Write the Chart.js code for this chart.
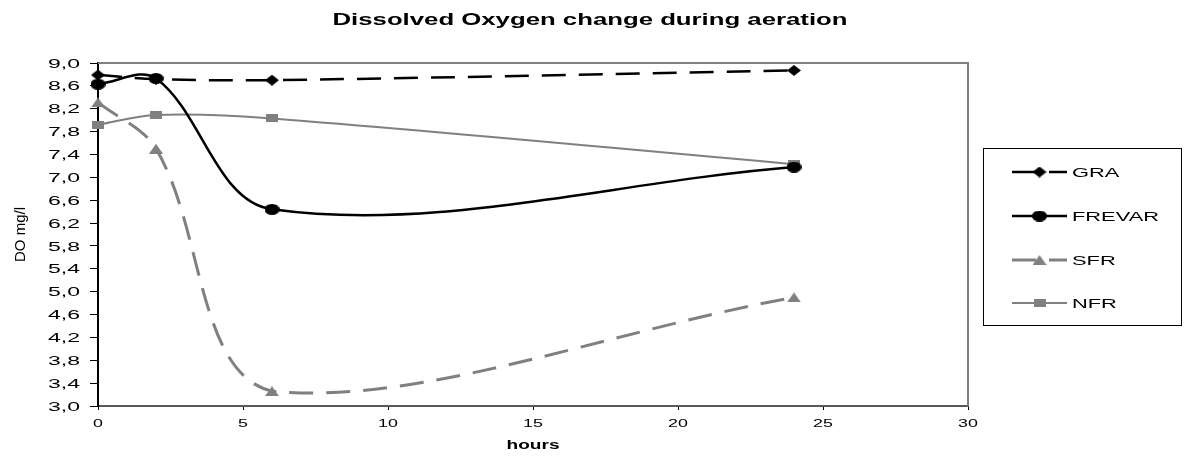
<!DOCTYPE html>
<html><head><meta charset="utf-8">
<script src="https://cdn.jsdelivr.net/npm/chart.js@4.4.1/dist/chart.umd.min.js"></script>
<style>html,body{margin:0;padding:0;background:#fff;}canvas{display:block;}</style>
</head><body>
<canvas id="c" width="1188" height="456"></canvas>
<script>
// ---- data ----
const hours = [0, 2, 6, 24];
const gra = [8.79, 8.72, 8.70, 8.87];
const frevar = [8.63, 8.73, 6.44, 7.18];
const sfr = [8.31, 7.50, 3.26, 4.90];
const nfr = [7.92, 8.09, 8.03, 7.23];
const seriesNames = ['GRA', 'FREVAR', 'SFR', 'NFR'];
const xTickValues = [0, 5, 10, 15, 20, 25, 30];
const yTickStep = 0.4;
const yRange = [3.0, 9.0];
const titleText = 'Dissolved Oxygen change during aeration';
const xTitle = 'hours';
const yTitle = 'DO mg/l';

const FONT = '"Liberation Sans", Arial, sans-serif';
const GRAY = '#808080';

function marker(kind, w, h, color) {
  const c = document.createElement('canvas'); c.width = w; c.height = h;
  const g = c.getContext('2d'); g.fillStyle = color; g.beginPath();
  if (kind === 'diamond') { g.moveTo(w/2, 0); g.lineTo(w, h/2); g.lineTo(w/2, h); g.lineTo(0, h/2); }
  else if (kind === 'ellipse') { g.ellipse(w/2, h/2, w/2, h/2, 0, 0, Math.PI*2); }
  else if (kind === 'triangle') { g.moveTo(w/2, 0); g.lineTo(w, h); g.lineTo(0, h); }
  else { g.rect(0, 0, w, h); }
  g.closePath(); g.fill(); return c;
}
const markers = [
  marker('diamond', 14, 11, '#000'),
  marker('ellipse', 15, 11, '#000'),
  marker('triangle', 14, 10, GRAY),
  marker('square', 12, 8, GRAY)
];
const toXY = arr => hours.map((h, i) => ({x: h, y: arr[i]}));

function stretchText(ctx, text, x, y, font, sx, align, baseline) {
  ctx.save(); ctx.font = font; ctx.fillStyle = '#000';
  ctx.textAlign = align; ctx.textBaseline = baseline || 'middle';
  ctx.translate(x, y); ctx.scale(sx, 1); ctx.fillText(text, 0, 0); ctx.restore();
}
function fitScale(ctx, font, text, target) {
  ctx.save(); ctx.font = font; const w = ctx.measureText(text).width; ctx.restore();
  return target / w;
}

const decor = {
  id: 'decor',
  beforeDraw(chart) {
    const ctx = chart.ctx;
    ctx.save(); ctx.fillStyle = '#fff'; ctx.fillRect(0, 0, chart.width, chart.height); ctx.restore();
  },
  beforeDatasetsDraw(chart) {
    const ctx = chart.ctx, a = chart.chartArea;
    ctx.save(); ctx.strokeStyle = GRAY; ctx.lineWidth = 2;
    ctx.beginPath(); ctx.moveTo(a.left, a.top); ctx.lineTo(a.right, a.top); ctx.lineTo(a.right, a.bottom); ctx.stroke();
    ctx.restore();
  },
  afterDraw(chart) {
    const ctx = chart.ctx, a = chart.chartArea;
    const xs = chart.scales.x, ys = chart.scales.y;
    // title
    const tf = 'bold 17px ' + FONT;
    stretchText(ctx, titleText, 590, 20, tf, fitScale(ctx, tf, titleText, 515), 'center');
    // y tick labels
    const yf = '13px ' + FONT;
    const ysx = fitScale(ctx, yf, '9,0', 32);
    ys.ticks.forEach(t => {
      const py = ys.getPixelForValue(t.value);
      stretchText(ctx, t.value.toFixed(1).replace('.', ','), 80, py + 1, yf, ysx, 'right');
    });
    // x tick labels
    const xf = '11px ' + FONT;
    xs.ticks.forEach(t => {
      const px = xs.getPixelForValue(t.value);
      stretchText(ctx, String(t.value), px, 424, xf, 1.62, 'center');
    });
    // axis titles
    const hf = 'bold 12px ' + FONT;
    stretchText(ctx, xTitle, (a.left + a.right) / 2, 446, hf, fitScale(ctx, hf, xTitle, 53), 'center');
    ctx.save(); ctx.font = '15px ' + FONT; ctx.fillStyle = '#000'; ctx.textAlign = 'center'; ctx.textBaseline = 'alphabetic';
    ctx.translate(25, (a.top + a.bottom) / 2); ctx.rotate(-Math.PI / 2); ctx.fillText(yTitle, 0, 0); ctx.restore();
    // legend
    ctx.save(); ctx.strokeStyle = '#000'; ctx.lineWidth = 1;
    ctx.strokeRect(983.5, 148.5, 198, 177); ctx.restore();
    const rows = [172, 216, 260, 303];
    const lf = '13px ' + FONT;
    chart.data.datasets.forEach((ds, i) => {
      const y = rows[i];
      ctx.save(); ctx.strokeStyle = ds.borderColor; ctx.lineWidth = ds.borderWidth;
      ctx.setLineDash(ds.borderDash || []);
      ctx.beginPath(); ctx.moveTo(1012, y); ctx.lineTo(1067, y); ctx.stroke(); ctx.restore();
      const m = ds.pointStyle;
      ctx.drawImage(m, 1039.5 - m.width / 2, y - m.height / 2);
      stretchText(ctx, ds.label, 1072, y + 1, lf, 1.68, 'left');
    });
  }
};

new Chart(document.getElementById('c'), {
  type: 'line',
  data: {
    datasets: [
      {label: seriesNames[0], data: toXY(gra), borderColor: '#000', borderWidth: 2.5, borderDash: [24, 13], pointStyle: markers[0]},
      {label: seriesNames[1], data: toXY(frevar), borderColor: '#000', borderWidth: 2.5, pointStyle: markers[1]},
      {label: seriesNames[2], data: toXY(sfr), borderColor: GRAY, borderWidth: 3, borderDash: [24, 13], pointStyle: markers[2]},
      {label: seriesNames[3], data: toXY(nfr), borderColor: GRAY, borderWidth: 2, pointStyle: markers[3]}
    ].map(d => Object.assign({fill: false, tension: 0.35, clip: false, pointRadius: 6, pointHoverRadius: 6}, d))
  },
  options: {
    responsive: false, animation: false, devicePixelRatio: 1,
    layout: {padding: {left: 0, right: 220, top: 63, bottom: 0}},
    plugins: {legend: {display: false}, title: {display: false}, tooltip: {enabled: false}},
    events: [],
    scales: {
      x: {
        type: 'linear', min: xTickValues[0], max: xTickValues[xTickValues.length - 1],
        afterBuildTicks(s) { s.ticks = xTickValues.map(v => ({value: v})); },
        ticks: {color: 'rgba(0,0,0,0)', font: {size: 11}},
        grid: {drawOnChartArea: false, drawTicks: true, tickLength: 4, color: '#000', lineWidth: 1},
        border: {color: '#595959', width: 2},
        afterFit(s) { s.height = 50; }
      },
      y: {
        type: 'linear', min: yRange[0], max: yRange[1],
        ticks: {stepSize: yTickStep, color: 'rgba(0,0,0,0)', font: {size: 11}, autoSkip: false},
        grid: {drawOnChartArea: false, drawTicks: true, tickLength: 8, color: '#000', lineWidth: 1},
        border: {color: '#000', width: 2},
        afterFit(s) { s.width = 98; }
      }
    }
  },
  plugins: [decor]
});
</script>
</body></html>
